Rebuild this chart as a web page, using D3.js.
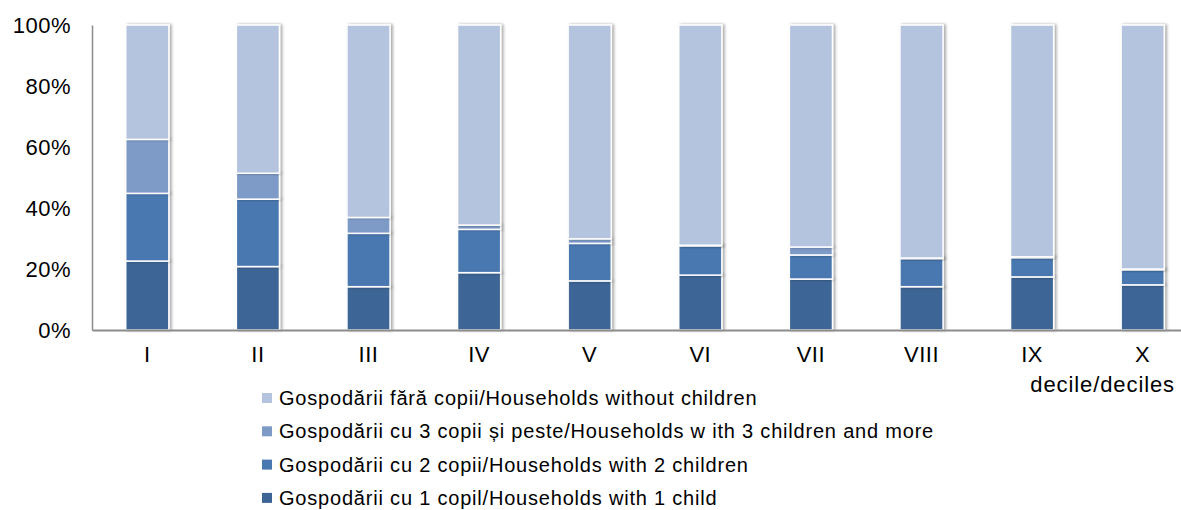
<!DOCTYPE html>
<html>
<head>
<meta charset="utf-8">
<script src="https://cdn.jsdelivr.net/npm/d3@7"></script>
<style>
  html, body { margin: 0; padding: 0; background: #fff; }
  svg { display: block; font-family: "Liberation Sans", Arial, sans-serif; }
</style>
</head>
<body>
<svg id="chart" width="1181" height="510"></svg>
<script>
const categories = ["I", "II", "III", "IV", "V", "VI", "VII", "VIII", "IX", "X"];
const oneChild    = [22.6, 20.8, 14.2, 18.8, 16.1, 18.0, 16.7, 14.2, 17.4, 14.8];
const twoChildren = [22.2, 22.1, 17.5, 14.2, 12.3,  9.5,  7.9,  9.2,  6.3,  4.9];
const threePlus   = [17.7,  8.5,  5.2,  1.4,  1.5,  0.3,  2.6,  0.2,  0.3,  0.3];
const noChildren  = [37.5, 48.6, 63.1, 65.6, 70.1, 72.2, 72.8, 76.4, 76.0, 80.0];
const seriesNames = [
  "Gospodării cu 1 copil/Households with 1 child",
  "Gospodării cu 2 copii/Households with 2 children",
  "Gospodării cu 3 copii și peste/Households w ith 3 children and more",
  "Gospodării fără copii/Households without children"
];
const seriesColors = ["#3C6595", "#4A78B0", "#7E9BC8", "#B4C3DE"];
const yTicks = [0, 20, 40, 60, 80, 100];
const xAxisTitle = "decile/deciles";

(function () {
const svg = d3.select("#chart");
const mLeft = 92, mTop = 25, mBottom = 330, mRight = 1198;

const keys = ["one", "two", "three", "none"];
const rows = categories.map((c, i) => {
  const raw = [oneChild[i], twoChildren[i], threePlus[i], noChildren[i]];
  const tot = d3.sum(raw);
  const r = { cat: c };
  keys.forEach((k, j) => r[k] = raw[j] / tot * 100);
  return r;
});
const stacked = d3.stack().keys(keys)(rows);

const x = d3.scaleBand().domain(categories).range([mLeft, mRight]).paddingInner(0.61).paddingOuter(0.305);
const y = d3.scaleLinear().domain([0, 100]).range([mBottom, mTop]);

const defs = svg.append("defs");
const f = defs.append("filter").attr("id", "sh").attr("x", "-30%").attr("y", "-5%").attr("width", "160%").attr("height", "110%");
f.append("feGaussianBlur").attr("in", "SourceAlpha").attr("stdDeviation", 1.6).attr("result", "b");
f.append("feOffset").attr("in", "b").attr("dx", 1.5).attr("dy", 0).attr("result", "o");
f.append("feComponentTransfer").attr("in", "o").attr("result", "o2")
  .append("feFuncA").attr("type", "linear").attr("slope", 0.35);
const m = f.append("feMerge");
m.append("feMergeNode").attr("in", "o2");
m.append("feMergeNode").attr("in", "SourceGraphic");

// bars
const g = svg.append("g");
stacked.forEach((s, si) => {
  g.append("g").attr("filter", "url(#sh)")
    .selectAll("rect").data(s).join("rect")
    .attr("x", d => x(d.data.cat))
    .attr("width", x.bandwidth())
    .attr("y", d => y(d[1]))
    .attr("height", d => Math.max(0, y(d[0]) - y(d[1])))
    .attr("fill", seriesColors[si])
    .attr("stroke", "#fff")
    .attr("stroke-width", 1.5);
});

// axes
const yAxis = d3.axisLeft(y).tickValues(yTicks).tickSize(0).tickPadding(21).tickFormat(d => d + "%");
const ya = svg.append("g").attr("transform", `translate(${mLeft},0)`).call(yAxis);
ya.select(".domain").attr("stroke", "#8c8c8c").attr("stroke-width", 1.5);
ya.selectAll("text").attr("font-size", 22).attr("letter-spacing", 0.5).attr("fill", "#000")
  .attr("font-family", "Liberation Sans, Arial, sans-serif");

const xAxis = d3.axisBottom(x).tickSize(0).tickPadding(16);
const xa = svg.append("g").attr("transform", `translate(0,${mBottom})`).call(xAxis);
xa.select(".domain").attr("stroke", "#8c8c8c").attr("stroke-width", 2);
xa.selectAll("text").attr("font-size", 22).attr("letter-spacing", 0.5).attr("fill", "#000")
  .attr("font-family", "Liberation Sans, Arial, sans-serif");

svg.append("text").attr("x", 1175).attr("y", 392).attr("text-anchor", "end")
  .attr("font-size", 22).attr("letter-spacing", 0.9).attr("fill", "#000").text(xAxisTitle);

// legend (reverse order)
const legendOrder = [3, 2, 1, 0];
const lg = svg.append("g");
legendOrder.forEach((si, i) => {
  const yy = 398 + i * 33.3;
  lg.append("rect").attr("x", 262).attr("y", yy - 5).attr("width", 10).attr("height", 10).attr("fill", seriesColors[si]);
  lg.append("text").attr("x", 279).attr("y", yy + 7).attr("font-size", 20).attr("letter-spacing", 0.8)
    .attr("fill", "#000").text(seriesNames[si]);
});
})();
</script>
</body>
</html>
